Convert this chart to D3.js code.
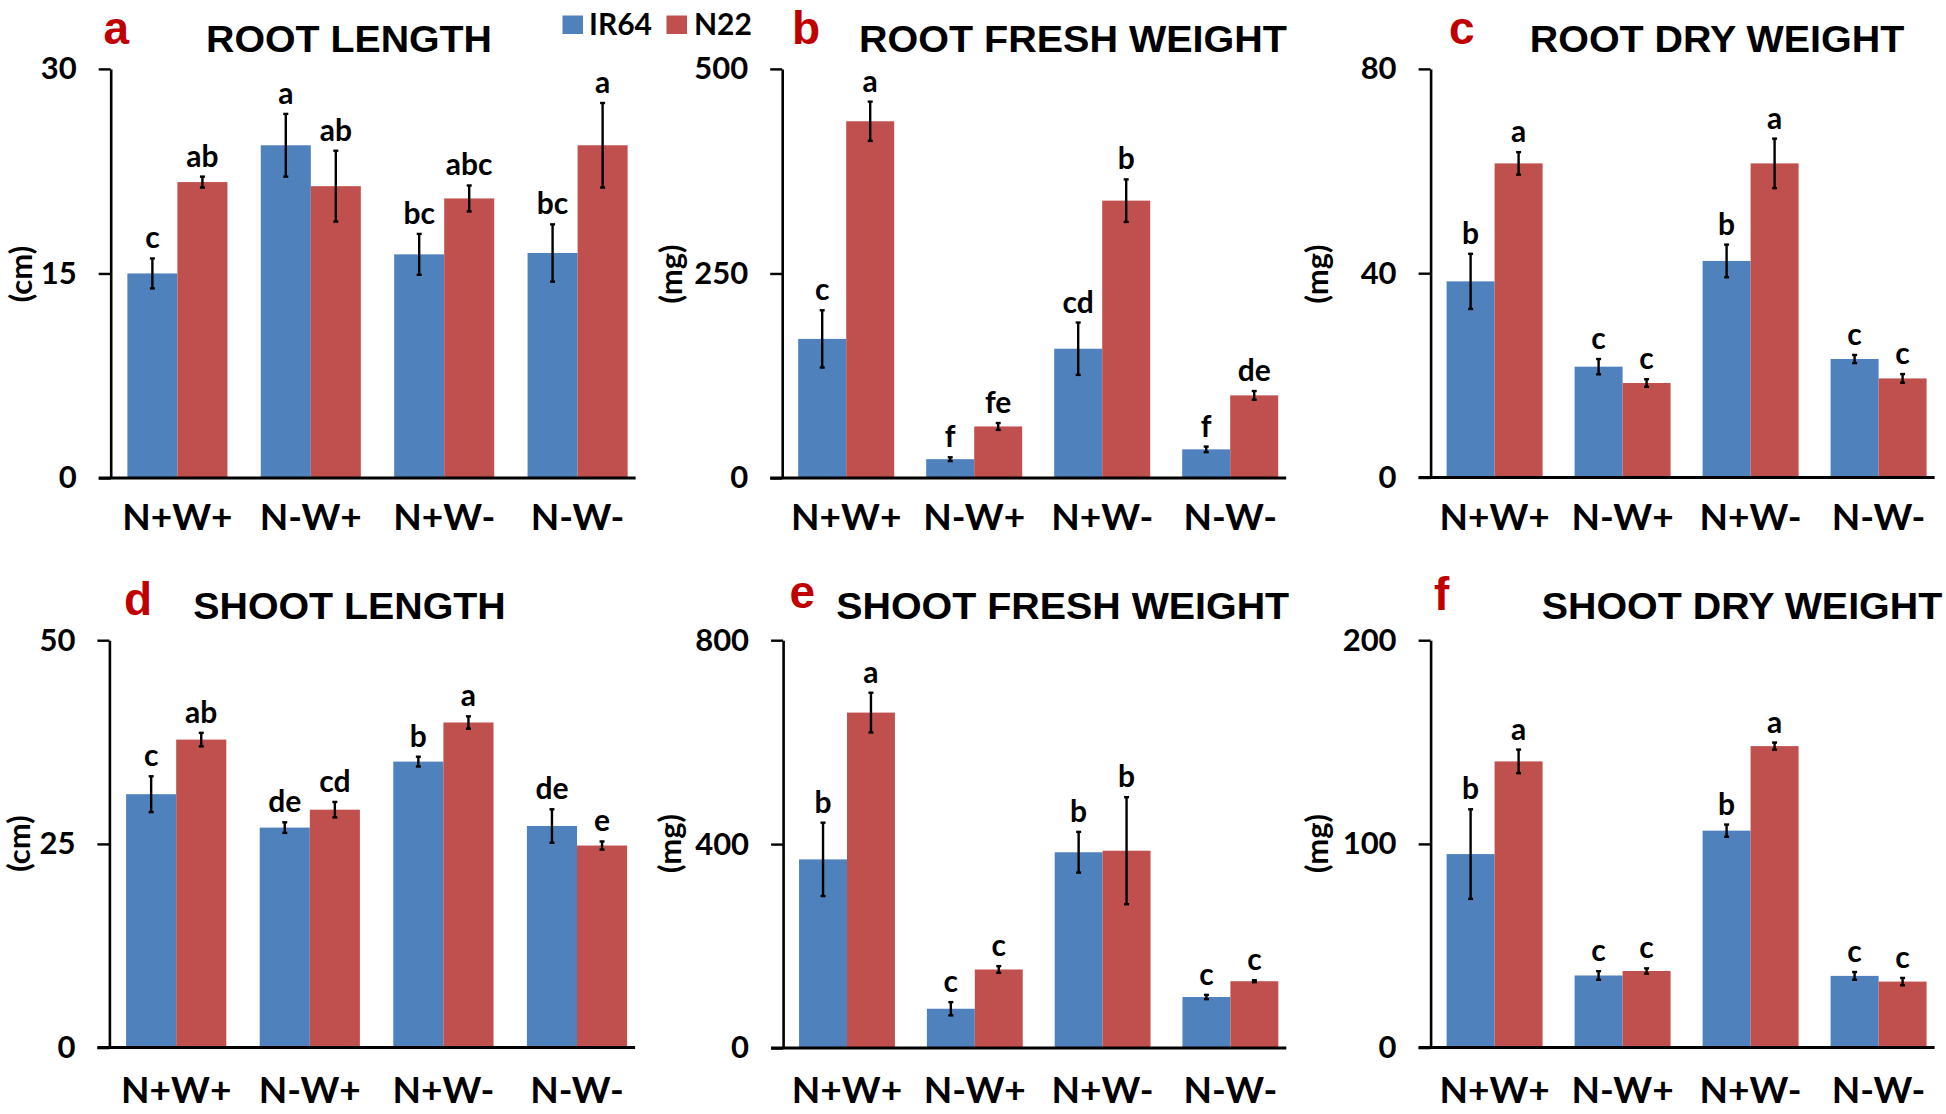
<!DOCTYPE html>
<html><head><meta charset="utf-8">
<script src="https://cdn.jsdelivr.net/npm/d3@7"></script>
<style>
html,body{margin:0;padding:0;background:#fff;}
svg{display:block;}
</style>
</head><body>
<svg id="chart" width="1946" height="1114"></svg>
<script>
// ---------- DATA ----------
const categories = ["N+W+", "N-W+", "N+W-", "N-W-"];
const seriesNames = ["IR64", "N22"];

const rootLengthIR64 = [15.0, 24.4, 16.4, 16.5];
const rootLengthN22  = [21.7, 21.4, 20.5, 24.4];
const rootLengthErrIR64 = [1.1, 2.3, 1.5, 2.1];
const rootLengthErrN22  = [0.4, 2.6, 0.95, 3.1];
const rootLengthLetIR64 = ["c", "a", "bc", "bc"];
const rootLengthLetN22  = ["ab", "ab", "abc", "a"];

const rootFreshIR64 = [170, 23, 158, 35];
const rootFreshN22  = [436, 63, 339, 101];
const rootFreshErrIR64 = [35, 2.3, 32, 3.4];
const rootFreshErrN22  = [24, 4.2, 26, 5.3];
const rootFreshLetIR64 = ["c", "f", "cd", "f"];
const rootFreshLetN22  = ["a", "fe", "b", "de"];

const rootDryIR64 = [38.4, 21.7, 42.4, 23.2];
const rootDryN22  = [61.5, 18.5, 61.5, 19.4];
const rootDryErrIR64 = [5.4, 1.5, 3.2, 0.8];
const rootDryErrN22  = [2.2, 0.75, 4.85, 0.85];
const rootDryLetIR64 = ["b", "c", "b", "c"];
const rootDryLetN22  = ["a", "c", "a", "c"];

const shootLengthIR64 = [31.1, 27.0, 35.1, 27.2];
const shootLengthN22  = [37.8, 29.2, 39.9, 24.8];
const shootLengthErrIR64 = [2.2, 0.65, 0.6, 2.05];
const shootLengthErrN22  = [0.83, 0.95, 0.76, 0.5];
const shootLengthLetIR64 = ["c", "de", "b", "de"];
const shootLengthLetN22  = ["ab", "cd", "a", "e"];

const shootFreshIR64 = [370, 77, 384, 100];
const shootFreshN22  = [658, 154, 387, 131];
const shootFreshErrIR64 = [72, 13, 40, 4.2];
const shootFreshErrN22  = [39, 6.6, 105, 2];
const shootFreshLetIR64 = ["b", "c", "b", "c"];
const shootFreshLetN22  = ["a", "c", "b", "c"];

const shootDryIR64 = [95.0, 35.4, 106.5, 35.2];
const shootDryN22  = [140.5, 37.6, 148.0, 32.4];
const shootDryErrIR64 = [22, 2.1, 3.0, 1.9];
const shootDryErrN22  = [5.8, 1.3, 1.75, 1.8];
const shootDryLetIR64 = ["b", "c", "b", "c"];
const shootDryLetN22  = ["a", "c", "a", "c"];

const panelTitles = ["ROOT LENGTH", "ROOT FRESH WEIGHT", "ROOT DRY WEIGHT",
                     "SHOOT LENGTH", "SHOOT FRESH WEIGHT", "SHOOT DRY WEIGHT"];
const panelLetters = ["a", "b", "c", "d", "e", "f"];
const unitLabels = ["(cm)", "(mg)", "(mg)", "(cm)", "(mg)", "(mg)"];
const tickSets = [[0, 15, 30], [0, 250, 500], [0, 40, 80], [0, 25, 50], [0, 400, 800], [0, 100, 200]];

// ---------- LAYOUT / STYLE ----------
const colors = {IR64: "#4F81BD", N22: "#C0504D"};
const letterRed = "#C00000";
const numFont = "Lato, 'Open Sans', sans-serif";
const titleFont = "'Liberation Sans', Arial, sans-serif";

const layout = [
  {axisX: 110.7, yTop: 68.9, yZero: 478, step: 133.4, xLabY: 530, tX: 349, tY: 51.6, tW: 286, lX: 103.6, lY: 44, uX: 21, uY: 274},
  {axisX: 782.2, yTop: 68.9, yZero: 478, step: 128, xLabY: 530, tX: 1073, tY: 51.6, tW: 428, lX: 792, lY: 44, uX: 671, uY: 274},
  {axisX: 1430.6, yTop: 68.9, yZero: 477.5, step: 128, xLabY: 530, tX: 1717, tY: 51.6, tW: 374.5, lX: 1449, lY: 44, uX: 1317, uY: 274},
  {axisX: 109.4, yTop: 640.2, yZero: 1047.6, step: 133.6, xLabY: 1103, tX: 349.5, tY: 619.4, tW: 312.5, lX: 124, lY: 614.8, uX: 19, uY: 843.5},
  {axisX: 783.1, yTop: 640.2, yZero: 1048, step: 127.8, xLabY: 1103, tX: 1062.7, tY: 619.4, tW: 453, lX: 789.6, lY: 607.7, uX: 670, uY: 843.5},
  {axisX: 1430.6, yTop: 640.2, yZero: 1047.6, step: 128, xLabY: 1103, tX: 1742, tY: 619.4, tW: 400.5, lX: 1434, lY: 609.5, uX: 1317, uY: 843.5}
];

const panelData = [
  [rootLengthIR64, rootLengthN22, rootLengthErrIR64, rootLengthErrN22, rootLengthLetIR64, rootLengthLetN22],
  [rootFreshIR64, rootFreshN22, rootFreshErrIR64, rootFreshErrN22, rootFreshLetIR64, rootFreshLetN22],
  [rootDryIR64, rootDryN22, rootDryErrIR64, rootDryErrN22, rootDryLetIR64, rootDryLetN22],
  [shootLengthIR64, shootLengthN22, shootLengthErrIR64, shootLengthErrN22, shootLengthLetIR64, shootLengthLetN22],
  [shootFreshIR64, shootFreshN22, shootFreshErrIR64, shootFreshErrN22, shootFreshLetIR64, shootFreshLetN22],
  [shootDryIR64, shootDryN22, shootDryErrIR64, shootDryErrN22, shootDryLetIR64, shootDryLetN22]
];

const svg = d3.select("#chart");

panelData.forEach((pd, i) => {
  const L = layout[i];
  const ticks = tickSets[i];
  const g = svg.append("g");

  const x0 = d3.scaleBand().domain(categories)
    .range([L.axisX, L.axisX + 4 * L.step]).paddingInner(0.25).paddingOuter(0.125);
  const x1 = d3.scaleBand().domain(seriesNames).range([0, x0.bandwidth()]);
  const y = d3.scaleLinear().domain([0, d3.max(ticks)]).range([L.yZero, L.yTop]);

  const rows = categories.map((c, k) => seriesNames.map((s, j) => ({
    cat: c, ser: s, v: pd[j][k], e: pd[2 + j][k], lab: pd[4 + j][k]
  }))).flat();

  // bars
  g.selectAll("rect.bar").data(rows).join("rect")
    .attr("class", "bar")
    .attr("x", d => x0(d.cat) + x1(d.ser))
    .attr("width", x1.bandwidth())
    .attr("y", d => y(d.v))
    .attr("height", d => y(0) - y(d.v))
    .attr("fill", d => colors[d.ser]);

  // error bars
  const eb = g.selectAll("g.err").data(rows).join("g").attr("class", "err")
    .attr("stroke", "#000").attr("stroke-width", 2.4);
  const cx = d => x0(d.cat) + x1(d.ser) + x1.bandwidth() / 2;
  eb.append("line").attr("x1", cx).attr("x2", cx)
    .attr("y1", d => y(d.v + d.e)).attr("y2", d => y(d.v - d.e));
  eb.append("line").attr("x1", d => cx(d) - 2.5).attr("x2", d => cx(d) + 2.5)
    .attr("y1", d => y(d.v + d.e)).attr("y2", d => y(d.v + d.e));
  eb.append("line").attr("x1", d => cx(d) - 2.5).attr("x2", d => cx(d) + 2.5)
    .attr("y1", d => y(d.v - d.e)).attr("y2", d => y(d.v - d.e));

  // significance letters
  g.selectAll("text.sig").data(rows).join("text").attr("class", "sig")
    .attr("x", cx).attr("y", d => y(d.v + d.e) - 10)
    .attr("text-anchor", "middle")
    .style("font-family", numFont).style("font-weight", "bold").style("font-size", "30px")
    .text(d => d.lab);

  // y axis
  const yAxis = d3.axisLeft(y).tickValues(ticks).tickSize(12).tickSizeOuter(0).tickPadding(22);
  const ya = g.append("g").attr("transform", `translate(${L.axisX},0)`).call(yAxis);
  ya.select(".domain").attr("stroke", "#000").attr("stroke-width", 2.6);
  ya.selectAll(".tick line").attr("stroke", "#000").attr("stroke-width", 2.4);
  ya.selectAll(".tick text").attr("fill", "#000")
    .style("font-family", numFont).style("font-weight", "bold").style("font-size", "31px");

  // x axis line (extends left to tick end)
  const lastCat = categories[categories.length - 1];
  const xEnd = x0(lastCat) + x0.bandwidth() + 8;
  g.append("line").attr("x1", L.axisX - 12).attr("x2", xEnd)
    .attr("y1", y(0)).attr("y2", y(0)).attr("stroke", "#000").attr("stroke-width", 3);

  // x category labels
  const xAxis = d3.axisBottom(x0).tickSize(0).tickPadding(0);
  const xa = g.append("g").attr("transform", `translate(0,${L.xLabY})`).call(xAxis);
  xa.select(".domain").remove();
  xa.selectAll(".tick text").attr("fill", "#000").attr("dy", 0).attr("y", 0)
    .style("font-family", numFont).style("font-weight", "bold").style("font-size", "37px");

  // unit label
  g.append("text").attr("transform", `translate(${L.uX},${L.uY}) rotate(-90)`)
    .attr("text-anchor", "middle").attr("dy", "0.35em")
    .style("font-family", numFont).style("font-weight", "bold").style("font-size", "31px")
    .text(unitLabels[i]);

  // title
  g.append("text").attr("x", L.tX).attr("y", L.tY).attr("text-anchor", "middle")
    .attr("textLength", L.tW).attr("lengthAdjust", "spacingAndGlyphs")
    .style("font-family", titleFont).style("font-weight", "bold").style("font-size", "37px")
    .text(panelTitles[i]);

  // panel letter
  g.append("text").attr("x", L.lX).attr("y", L.lY)
    .style("font-family", titleFont).style("font-weight", "bold").style("font-size", "46px")
    .attr("fill", letterRed).text(panelLetters[i]);
});

// legend
const legendPos = [{rx: 562.5, tx: 589}, {rx: 666.5, tx: 694}];
const lg = svg.append("g");
seriesNames.forEach((s, j) => {
  lg.append("rect").attr("x", legendPos[j].rx).attr("y", 15.5).attr("width", 20.5).attr("height", 18.5)
    .attr("fill", colors[s]);
  lg.append("text").attr("x", legendPos[j].tx).attr("y", 35)
    .style("font-family", numFont).style("font-weight", "bold").style("font-size", "30px")
    .text(s);
});
</script>
</body></html>
